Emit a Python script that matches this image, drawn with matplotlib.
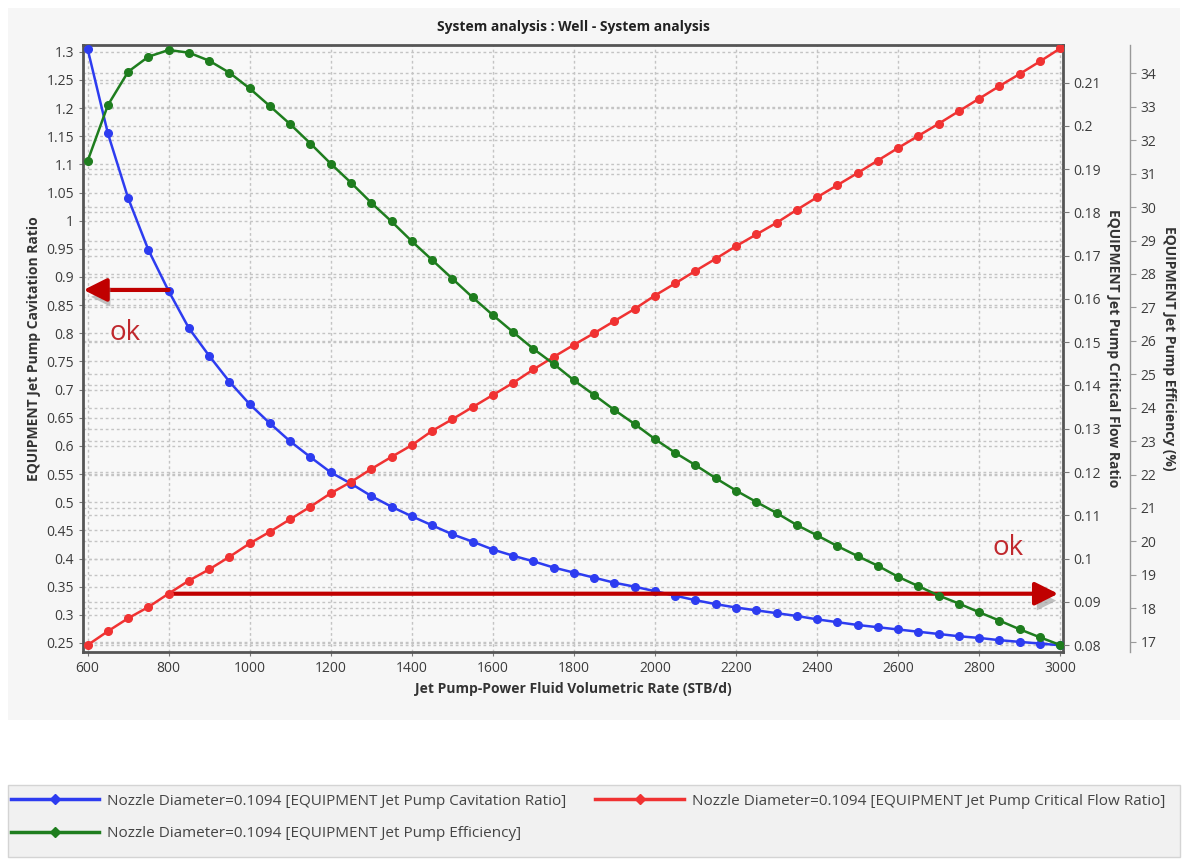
import matplotlib
matplotlib.use("Agg")
import matplotlib.pyplot as plt
import matplotlib.transforms as mtransforms
import matplotlib.patheffects as pe
from matplotlib.patches import Rectangle
from matplotlib.lines import Line2D

plt.rcParams['font.family'] = ['Open Sans', 'DejaVu Sans']

# Data
rate = [600, 650, 700, 750, 800, 850, 900, 950, 1000, 1050, 1100, 1150, 1200,
        1250, 1300, 1350, 1400, 1450, 1500, 1550, 1600, 1650, 1700, 1750, 1800,
        1850, 1900, 1950, 2000, 2050, 2100, 2150, 2200, 2250, 2300, 2350, 2400,
        2450, 2500, 2550, 2600, 2650, 2700, 2750, 2800, 2850, 2900, 2950, 3000]

cavitation = [1.305, 1.155, 1.040, 0.948, 0.875, 0.809, 0.760, 0.714, 0.674,
              0.640, 0.608, 0.580, 0.553, 0.533, 0.511, 0.492, 0.475, 0.459,
              0.443, 0.430, 0.416, 0.405, 0.395, 0.384, 0.375, 0.366, 0.357,
              0.350, 0.342, 0.334, 0.326, 0.319, 0.313, 0.308, 0.303, 0.298,
              0.292, 0.287, 0.282, 0.278, 0.274, 0.270, 0.266, 0.262, 0.259,
              0.255, 0.252, 0.249, 0.246]

critical_flow = [0.0800, 0.0832, 0.0862, 0.0888, 0.0919, 0.0949, 0.0975, 0.1004,
                 0.1035, 0.1062, 0.1091, 0.1120, 0.1151, 0.1177, 0.1207, 0.1235,
                 0.1262, 0.1295, 0.1322, 0.1350, 0.1378, 0.1406, 0.1437, 0.1466,
                 0.1494, 0.1521, 0.1549, 0.1577, 0.1608, 0.1636, 0.1665, 0.1693,
                 0.1722, 0.1749, 0.1776, 0.1806, 0.1835, 0.1863, 0.1891, 0.1920,
                 0.1949, 0.1977, 0.2005, 0.2034, 0.2063, 0.2092, 0.2120, 0.2149,
                 0.2179]

efficiency = [31.38, 33.05, 34.05, 34.50, 34.70, 34.62, 34.38, 34.02, 33.55,
              33.02, 32.48, 31.90, 31.30, 30.73, 30.13, 29.57, 28.98, 28.42,
              27.86, 27.30, 26.77, 26.26, 25.76, 25.31, 24.82, 24.38, 23.93,
              23.51, 23.06, 22.65, 22.28, 21.89, 21.52, 21.18, 20.85, 20.49,
              20.18, 19.86, 19.56, 19.27, 18.94, 18.66, 18.38, 18.14, 17.88,
              17.63, 17.37, 17.13, 16.90]

x_ticks = [600, 800, 1000, 1200, 1400, 1600, 1800, 2000, 2200, 2400, 2600, 2800, 3000]
left_ticks = [0.25, 0.3, 0.35, 0.4, 0.45, 0.5, 0.55, 0.6, 0.65, 0.7, 0.75, 0.8,
              0.85, 0.9, 0.95, 1, 1.05, 1.1, 1.15, 1.2, 1.25, 1.3]
left_labels = ['0.25', '0.3', '0.35', '0.4', '0.45', '0.5', '0.55', '0.6', '0.65',
               '0.7', '0.75', '0.8', '0.85', '0.9', '0.95', '1', '1.05', '1.1',
               '1.15', '1.2', '1.25', '1.3']
cfr_ticks = [0.08, 0.09, 0.1, 0.11, 0.12, 0.13, 0.14, 0.15, 0.16, 0.17, 0.18,
             0.19, 0.2, 0.21]
cfr_labels = ['0.08', '0.09', '0.1', '0.11', '0.12', '0.13', '0.14', '0.15',
              '0.16', '0.17', '0.18', '0.19', '0.2', '0.21']
eff_ticks = [17, 18, 19, 20, 21, 22, 23, 24, 25, 26, 27, 28, 29, 30, 31, 32, 33, 34]

legend_labels = ['Nozzle Diameter=0.1094 [EQUIPMENT Jet Pump Cavitation Ratio]',
                 'Nozzle Diameter=0.1094 [EQUIPMENT Jet Pump Efficiency]',
                 'Nozzle Diameter=0.1094 [EQUIPMENT Jet Pump Critical Flow Ratio]']

BLUE = '#2d3cf0'
RED = '#f03232'
GREEN = '#1e7d1e'
ARROW = '#c00000'
TXT = '#3c3c3c'
GRID = '#c4c4c4'

W, H = 1189, 859
fig = plt.figure(figsize=(W / 100, H / 100), dpi=100)
fig.patch.set_facecolor('white')

# light panel behind the chart and the legend strip
fig.patches.append(Rectangle((8 / W, 1 - 720 / H), 1172 / W, 712 / H,
                             transform=fig.transFigure, facecolor='#f6f6f6',
                             edgecolor='none', zorder=-10))
fig.patches.append(Rectangle((8 / W, 1 - 857 / H), 1172 / W, 72 / H,
                             transform=fig.transFigure, facecolor='#f1f1f1',
                             edgecolor='#d4d4d4', linewidth=1, zorder=-10))

ax = fig.add_axes([83 / W, 1 - 652 / H, 980 / W, 607 / H])
ax.set_facecolor('#f8f8f8')
ax2 = ax.twinx()
ax3 = ax.twinx()

ax.set_xlim(588.6, 3007)
ax.set_ylim(0.234, 1.312)
ax2.set_ylim(0.0784, 0.2187)
ax3.set_ylim(16.69, 34.85)

# grids, all drawn on the bottom axes so the curves stay on top
ax.set_xticks(x_ticks)
ax.set_yticks(left_ticks)
ax.grid(True, color=GRID, linestyle=(0, (2, 2)), linewidth=1)
ax.set_axisbelow(True)
for other, ticks in ((ax2, cfr_ticks), (ax3, eff_ticks)):
    tr = mtransforms.blended_transform_factory(ax.transAxes, other.transData)
    for v in ticks:
        ax.plot([0, 1], [v, v], transform=tr, color=GRID,
                linestyle=(0, (2, 2)), linewidth=1, zorder=0.5)

mk = dict(marker='o', markersize=5.5, linewidth=1.8)
ax.plot(rate, cavitation, color=BLUE, zorder=3, **mk)
ax2.plot(rate, critical_flow, color=RED, zorder=3, **mk)
ax3.plot(rate, efficiency, color=GREEN, zorder=3, **mk)

# frame and ticks
for s in ax.spines.values():
    s.set_color('#555555')
    s.set_linewidth(2)
for a in (ax2, ax3):
    for s in a.spines.values():
        s.set_visible(False)
ax.set_yticklabels(left_labels)
ax.tick_params(axis='both', labelsize=10, labelcolor=TXT, color='#777777', length=3)

ax2.set_yticks(cfr_ticks)
ax2.set_yticklabels(cfr_labels)
ax2.tick_params(axis='y', labelsize=10, labelcolor=TXT, color='#777777', length=4)

ax3.spines['right'].set_visible(True)
ax3.spines['right'].set_position(('axes', 1.0 + 67 / 980))
ax3.spines['right'].set_color('#999999')
ax3.spines['right'].set_linewidth(1)
ax3.set_yticks(eff_ticks)
ax3.tick_params(axis='y', labelsize=10, labelcolor=TXT, color='#999999', length=4)

lab = dict(fontsize=10, fontweight='bold', color='#333333')
ax.set_xlabel('Jet Pump-Power Fluid Volumetric Rate (STB/d)', labelpad=4, **lab)
ax.set_ylabel('EQUIPMENT Jet Pump Cavitation Ratio', labelpad=4, **lab)
ax2.set_ylabel('EQUIPMENT Jet Pump Critical Flow Ratio', rotation=270,
               labelpad=14, **lab)
ax3.set_ylabel('EQUIPMENT Jet Pump Efficiency (%)', rotation=270,
               labelpad=14, **lab)
ax.set_title('System analysis : Well - System analysis', fontsize=10,
             fontweight='bold', color='#222222', pad=10)

# annotation arrows with a soft shadow
shadow = [pe.SimplePatchShadow(offset=(2, -5), shadow_rgbFace='#9a9a9a', alpha=0.6),
          pe.Normal()]
arrow_kw = dict(arrowstyle='-|>,head_length=1.4,head_width=0.7', color=ARROW,
                linewidth=3, shrinkA=0, shrinkB=0)
a1 = ax.annotate('', xy=(590, 0.877), xytext=(800, 0.877),
                 arrowprops=arrow_kw, zorder=5)
a1.arrow_patch.set_path_effects(shadow)
a2 = ax.annotate('', xy=(2995, 0.3375), xytext=(800, 0.3375),
                 arrowprops=arrow_kw, zorder=5)
a2.arrow_patch.set_path_effects(shadow)
ax.text(693, 0.80, 'ok', color='#c0282d', fontsize=20, ha='center', va='center', zorder=6)
ax.text(2872, 0.418, 'ok', color='#c0282d', fontsize=20, ha='center', va='center', zorder=6)

# legend
handles = [Line2D([], [], color=BLUE, marker='D', markersize=5, linewidth=2.5),
           Line2D([], [], color=GREEN, marker='D', markersize=5, linewidth=2.5),
           Line2D([], [], color=RED, marker='D', markersize=5, linewidth=2.5)]
fig.legend(handles, legend_labels, ncol=2, loc='upper left',
           bbox_to_anchor=(-3 / W, 1 - 780 / H), frameon=False, fontsize=11,
           handlelength=5.8, handletextpad=0.5, columnspacing=1.9,
           labelspacing=1.15, labelcolor='#444444')

fig.savefig('out.png', dpi=100, facecolor=fig.get_facecolor())
